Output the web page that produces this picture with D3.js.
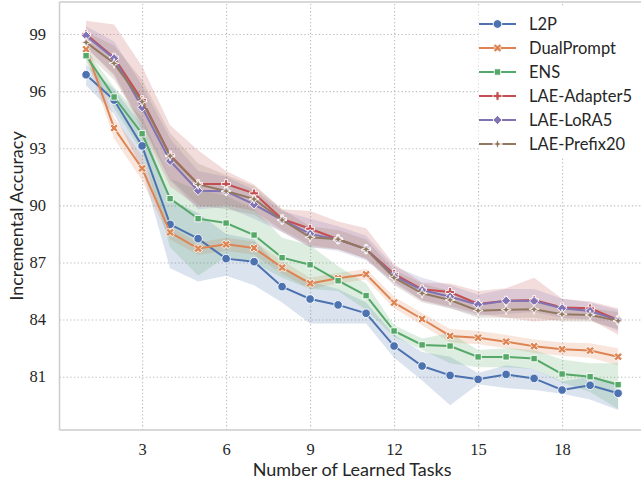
<!DOCTYPE html>
<html><head>
<meta charset="utf-8">
<script src="https://d3js.org/d3.v7.min.js"></script>
<style>
  body { margin: 0; background: #fff; }
  .tick text { font-family: "Liberation Serif", serif; font-size: 16.5px; fill: #262626; }
  .grid line { stroke: #bdbdbd; stroke-width: 1.1; stroke-dasharray: 1.3 2.3; }
  .grid .domain { stroke: none; }
  .title, .legend text { font-family: Lato, sans-serif; fill: #262626; }
</style>
</head>
<body>
<svg id="chart" width="641" height="480"></svg>
<script>
// ---- data ----
const tasks = [1, 2, 3, 4, 5, 6, 7, 8, 9, 10, 11, 12, 13, 14, 15, 16, 17, 18, 19, 20];
const xTicks = [3, 6, 9, 12, 15, 18];
const yTicks = [81, 84, 87, 90, 93, 96, 99];
const seriesNames = ["L2P", "DualPrompt", "ENS", "LAE-Adapter5", "LAE-LoRA5", "LAE-Prefix20"];
const colors = ["#4c72b0", "#dd8452", "#55a868", "#c44e52", "#8172b3", "#937860"];
const markers = ["circle", "x", "square", "plus", "diamond", "star"];

const l2pMean = [96.86, 95.53, 93.12, 89.0, 88.25, 87.2, 87.04, 85.73, 85.08, 84.77, 84.33, 82.61, 81.56, 81.07, 80.86, 81.12, 80.91, 80.3, 80.55, 80.13];
const l2pLo   = [96.3, 94.8, 91.9, 86.7, 86.0, 86.3, 85.8, 84.9, 83.8, 83.8, 83.8, 82.0, 80.8, 79.5, 80.6, 80.4, 80.3, 80.1, 79.8, 79.25];
const l2pHi   = [97.4, 96.1, 94.2, 90.3, 89.6, 88.5, 88.2, 86.6, 86.0, 85.6, 84.9, 83.2, 82.3, 82.05, 81.2, 81.6, 81.4, 80.75, 81.0, 80.7];

const dpMean = [98.2, 94.06, 91.94, 88.58, 87.73, 87.95, 87.76, 86.73, 85.9, 86.17, 86.38, 84.89, 84.03, 83.14, 83.05, 82.84, 82.6, 82.44, 82.37, 82.05];
const dpLo   = [97.8, 93.5, 91.3, 88.2, 87.4, 87.6, 87.4, 86.4, 85.6, 85.9, 86.1, 84.6, 83.7, 82.8, 82.7, 82.5, 82.25, 82.1, 82.0, 81.6];
const dpHi   = [98.6, 94.6, 92.6, 88.9, 88.05, 88.3, 88.1, 87.1, 86.2, 86.45, 86.65, 85.2, 84.35, 83.5, 83.4, 83.2, 82.95, 82.8, 82.75, 82.5];

const ensMean = [97.86, 95.69, 93.76, 90.35, 89.3, 89.07, 88.44, 87.25, 86.88, 86.04, 85.26, 83.4, 82.67, 82.61, 82.04, 82.04, 81.95, 81.14, 81.0, 80.58];
const ensLo   = [97.5, 95.1, 92.8, 87.8, 86.3, 87.3, 87.0, 86.2, 85.6, 85.5, 84.5, 83.1, 82.4, 81.7, 81.5, 81.5, 81.4, 80.7, 80.2, 79.3];
const ensHi   = [98.2, 96.2, 94.6, 91.4, 90.8, 90.5, 89.8, 88.3, 87.9, 86.8, 85.9, 83.7, 83.0, 83.3, 82.4, 82.5, 82.4, 81.9, 81.7, 81.7];

const adapterMean = [98.98, 97.76, 95.53, 92.63, 91.12, 91.12, 90.63, 89.28, 88.77, 88.22, 87.7, 86.4, 85.59, 85.45, 84.82, 84.99, 85.03, 84.64, 84.59, 83.98];
const adapterLo   = [98.3, 96.8, 94.0, 91.0, 89.9, 90.0, 89.7, 88.7, 87.9, 87.7, 87.2, 86.0, 85.0, 84.7, 84.3, 84.1, 83.9, 84.0, 84.0, 83.2];
const adapterHi   = [99.7, 99.5, 97.3, 94.2, 92.9, 91.8, 91.1, 89.8, 89.7, 89.15, 88.8, 86.9, 85.95, 85.9, 85.5, 85.65, 86.2, 85.1, 84.95, 84.6];

const loraMean = [98.91, 97.72, 95.15, 92.33, 90.77, 90.74, 90.05, 89.23, 88.5, 88.2, 87.7, 86.29, 85.55, 85.2, 84.78, 84.99, 84.97, 84.59, 84.45, 83.97];
const loraLo   = [98.3, 96.9, 94.2, 91.3, 89.8, 89.9, 89.3, 88.6, 87.8, 87.6, 87.1, 85.9, 85.0, 84.6, 84.2, 84.3, 84.4, 84.1, 84.0, 83.4];
const loraHi   = [99.4, 98.6, 96.3, 93.5, 91.8, 91.5, 90.8, 89.7, 89.3, 88.9, 88.4, 86.8, 86.2, 85.8, 85.3, 85.6, 85.6, 85.1, 84.9, 84.5];

const prefixMean = [98.56, 97.46, 95.45, 92.59, 91.1, 90.75, 90.33, 89.23, 88.32, 88.22, 87.69, 86.2, 85.38, 85.03, 84.47, 84.52, 84.54, 84.28, 84.24, 83.94];
const prefixLo   = [98.0, 96.6, 94.3, 91.4, 90.0, 89.8, 89.5, 88.6, 87.8, 87.7, 87.2, 85.8, 84.9, 84.6, 84.1, 84.1, 84.1, 83.9, 83.9, 83.5];
const prefixHi   = [99.1, 98.4, 96.6, 93.8, 92.2, 91.6, 91.0, 89.8, 88.9, 88.7, 88.2, 86.6, 85.9, 85.5, 84.9, 85.0, 85.0, 84.7, 84.6, 84.4];

const means = [l2pMean, dpMean, ensMean, adapterMean, loraMean, prefixMean];
const lows  = [l2pLo, dpLo, ensLo, adapterLo, loraLo, prefixLo];
const highs = [l2pHi, dpHi, ensHi, adapterHi, loraHi, prefixHi];

// ---- setup ----
const svg = d3.select("svg#chart");
const plotLeft = 59.5, plotTop = 2, plotBottom = 430, plotRight = 644.7;

const x = d3.scaleLinear().domain([0.05, 20.95]).range([plotLeft, plotRight]);
const y = d3.scaleLinear().domain([78.2, 100.68]).range([plotBottom, plotTop]);

// gridlines + tick labels from the axes
svg.append("g")
   .attr("class", "grid")
   .attr("transform", "translate(0," + plotBottom + ")")
   .call(d3.axisBottom(x).tickValues(xTicks).tickSize(-(plotBottom - plotTop)).tickPadding(13.3));

svg.append("g")
   .attr("class", "grid")
   .attr("transform", "translate(" + plotLeft + ",0)")
   .call(d3.axisLeft(y).tickValues(yTicks).tickSize(-(641 - plotLeft)).tickPadding(13.5));

// spines
const spine = svg.append("g").attr("stroke", "#cccccc").attr("stroke-width", 1.5);
spine.append("line").attr("x1", plotLeft).attr("x2", plotLeft).attr("y1", plotTop).attr("y2", plotBottom);
spine.append("line").attr("x1", plotLeft).attr("x2", 641).attr("y1", plotBottom).attr("y2", plotBottom);
spine.append("line").attr("x1", plotLeft).attr("x2", 641).attr("y1", plotTop).attr("y2", plotTop);

// marker shapes, centred on 0,0
function markerPath(kind) {
  const p = d3.path();
  if (kind === "circle") {
    p.arc(0, 0, 4.3, 0, 2 * Math.PI);
  } else if (kind === "square") {
    p.rect(-3.2, -3.2, 6.4, 6.4);
  } else if (kind === "diamond") {
    const r = 4.6;
    p.moveTo(0, -r); p.lineTo(r, 0); p.lineTo(0, r); p.lineTo(-r, 0); p.closePath();
  } else if (kind === "star") {
    const R = 5, r = 1.8;
    for (let i = 0; i < 8; i++) {
      const a = -Math.PI / 2 + i * Math.PI / 4;
      const rr = i % 2 === 0 ? R : r;
      if (i === 0) p.moveTo(rr * Math.cos(a), rr * Math.sin(a));
      else p.lineTo(rr * Math.cos(a), rr * Math.sin(a));
    }
    p.closePath();
  } else {
    // filled plus, rotated for the X
    const a = 4.4, b = 1.5;
    const pts = [[-b,-a],[b,-a],[b,-b],[a,-b],[a,b],[b,b],[b,a],[-b,a],[-b,b],[-a,b],[-a,-b],[-b,-b]];
    const rot = kind === "x" ? Math.PI / 4 : 0;
    pts.forEach((q, i) => {
      const px = q[0] * Math.cos(rot) - q[1] * Math.sin(rot);
      const py = q[0] * Math.sin(rot) + q[1] * Math.cos(rot);
      if (i === 0) p.moveTo(px, py); else p.lineTo(px, py);
    });
    p.closePath();
  }
  return p.toString();
}

// confidence bands (underneath every line)
const area = d3.area()
  .x((d, i) => x(tasks[i]))
  .y0(d => y(d[0]))
  .y1(d => y(d[1]));

const bands = svg.append("g");
seriesNames.forEach((name, s) => {
  const pairs = tasks.map((t, i) => [lows[s][i], highs[s][i]]);
  bands.append("path")
       .attr("d", area(pairs))
       .attr("fill", colors[s])
       .attr("fill-opacity", 0.2)
       .attr("stroke", "none");
});

// lines with markers
const line = d3.line().x((d, i) => x(tasks[i])).y(d => y(d));
seriesNames.forEach((name, s) => {
  const g = svg.append("g");
  g.append("path")
   .attr("d", line(means[s]))
   .attr("fill", "none")
   .attr("stroke", colors[s])
   .attr("stroke-width", 2);
  g.selectAll("path.m")
   .data(means[s])
   .join("path")
   .attr("class", "m")
   .attr("d", markerPath(markers[s]))
   .attr("transform", (d, i) => "translate(" + x(tasks[i]) + "," + y(d) + ")")
   .attr("fill", colors[s])
   .attr("stroke", "#fff")
   .attr("stroke-width", 0.9);
});

// axis titles
svg.append("text")
   .attr("class", "title")
   .attr("x", (plotLeft + plotRight) / 2)
   .attr("y", 476)
   .attr("text-anchor", "middle")
   .attr("font-size", "18px")
   .text("Number of Learned Tasks");

svg.append("text")
   .attr("class", "title")
   .attr("transform", "translate(23," + ((plotTop + plotBottom) / 2) + ") rotate(-90)")
   .attr("text-anchor", "middle")
   .attr("font-size", "18px")
   .text("Incremental Accuracy");

// legend
const legend = svg.append("g").attr("class", "legend");
legend.append("rect")
      .attr("x", 478.5).attr("y", 6)
      .attr("width", 170).attr("height", 152)
      .attr("fill", "#fff");

seriesNames.forEach((name, s) => {
  const cy = 24 + s * 24;
  legend.append("line")
        .attr("x1", 479).attr("x2", 516)
        .attr("y1", cy).attr("y2", cy)
        .attr("stroke", colors[s]).attr("stroke-width", 2);
  legend.append("path")
        .attr("d", markerPath(markers[s]))
        .attr("transform", "translate(497.5," + cy + ")")
        .attr("fill", colors[s])
        .attr("stroke", "#fff")
        .attr("stroke-width", 0.9);
  legend.append("text")
        .attr("x", 529)
        .attr("y", cy + 6)
        .attr("font-size", "16.5px")
        .text(name);
});
</script>
</body>
</html>
